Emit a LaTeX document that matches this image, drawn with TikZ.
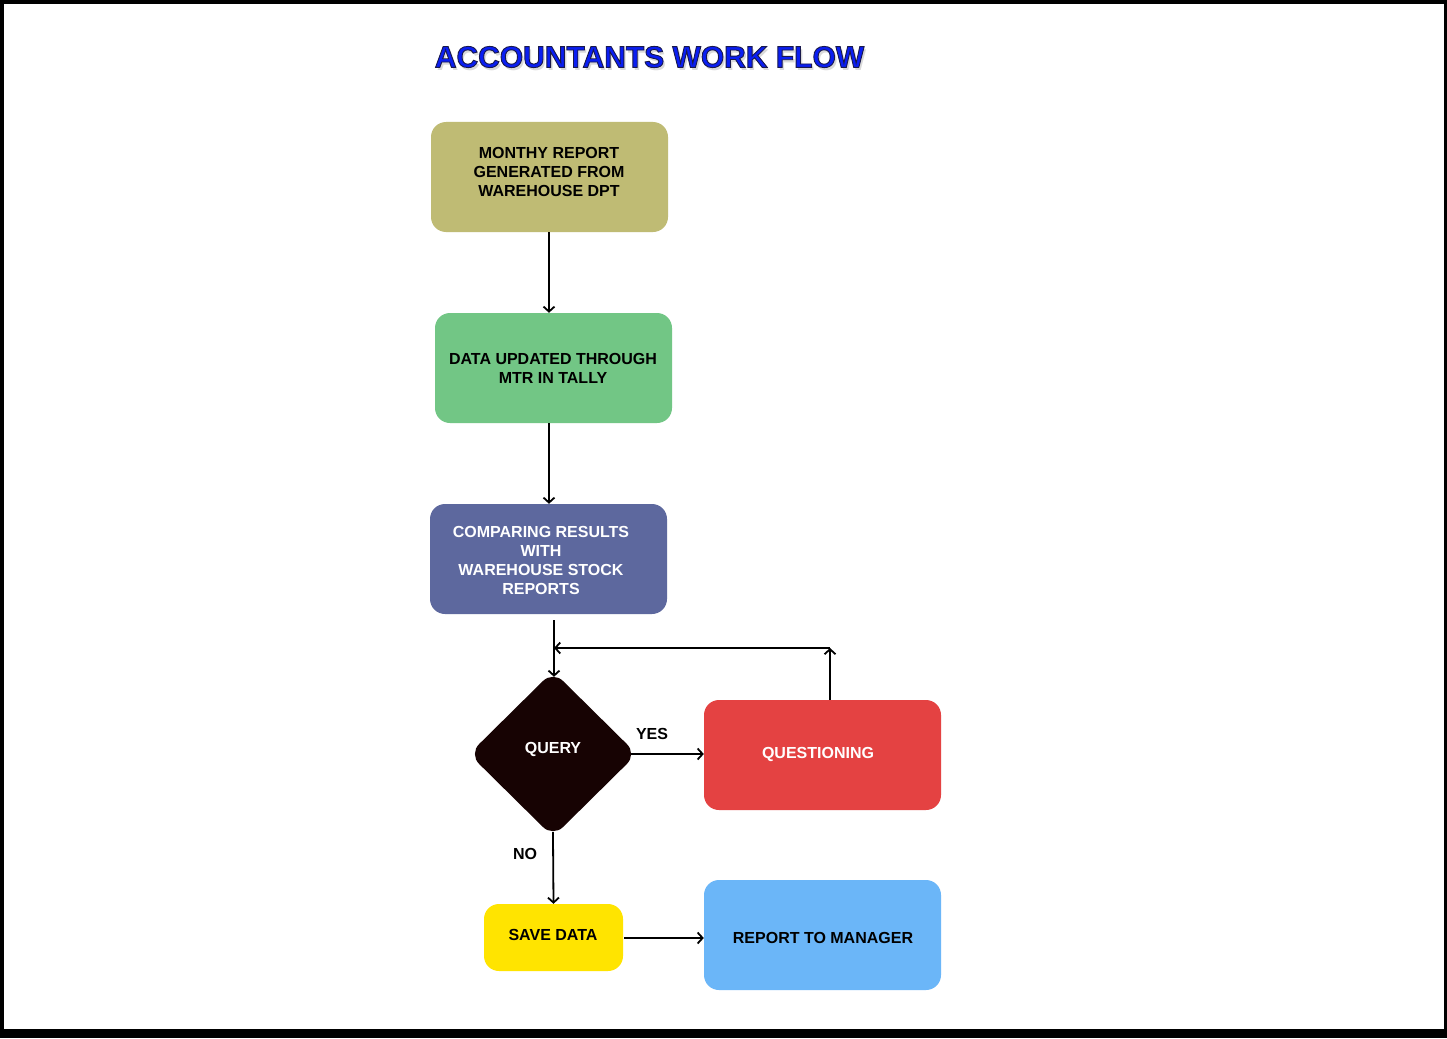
\documentclass[tikz,border=0pt]{standalone}
\usepackage{fontspec}
\setmainfont{Liberation Sans}
\usetikzlibrary{arrows.meta,shapes.geometric,calc}
\definecolor{olivebox}{HTML}{BFBB74}
\definecolor{greenbox}{HTML}{72C685}
\definecolor{purplebox}{HTML}{5D689E}
\definecolor{darkq}{HTML}{170303}
\definecolor{redbox}{HTML}{E44242}
\definecolor{yellowbox}{HTML}{FFE400}
\definecolor{bluebox}{HTML}{6BB6F8}
\definecolor{titleblue}{HTML}{0A1EF2}
\newcommand{\outlinedtitle}[1]{\special{pdf:code 0.1 0.1 0.3 RG 0.9 w 2 Tr}#1\special{pdf:code 0 Tr}}
\begin{document}
\begin{tikzpicture}[x=1pt,y=-1pt,
  box/.style={rounded corners=15pt, inner sep=0pt, minimum width=237pt, minimum height=110pt},
  txt/.style={align=center, inner sep=0pt, font=\bfseries\fontsize{16}{19}\selectfont},
  arr/.style={-{Straight Barb[length=5pt,width=11pt]}, line width=1.8pt},
  ttl/.style={inner sep=0pt, font=\bfseries\fontsize{30}{36}\selectfont}]
\fill[black] (0,0) rectangle (1447,1038);
\fill[white] (3.5,4.5) rectangle (1444,1029);
\useasboundingbox (0,0) rectangle (1447,1038);

% title
\node[ttl, text=black, opacity=0.15] (tS) at (651.5,60.5) {ACCOUNTANTS WORK FLOW};
\node[ttl, text=titleblue] (title) at (649.5,57) {\outlinedtitle{ACCOUNTANTS WORK FLOW}};

% boxes
\node[box, fill=olivebox] (b1) at (549.5,177) {};
\node[txt] (b1t) at (549,171.5) {MONTHY REPORT\\GENERATED FROM\\WAREHOUSE DPT};
\node[box, fill=greenbox] (b2) at (553.5,368) {};
\node[txt] (b2t) at (553,368) {DATA UPDATED THROUGH\\MTR IN TALLY};
\node[box, fill=purplebox] (b3) at (548.5,559) {};
\node[txt, text=white] (b3t) at (541,560) {COMPARING RESULTS\\WITH\\WAREHOUSE STOCK\\REPORTS};
\node[diamond, fill=darkq, rounded corners=14pt, inner sep=0pt, minimum width=168pt, minimum height=166pt] (q) at (553,754) {};
\node[txt, text=white] (qt) at (553,749.5) {QUERY};
\node[box, fill=redbox] (r) at (822.5,755) {};
\node[txt, text=white] (rt) at (818,754.5) {QUESTIONING};
\node[box, fill=yellowbox, minimum width=139pt, minimum height=67pt] (y) at (553.5,937.5) {};
\node[txt] (yt) at (553,934.5) {SAVE DATA};
\node[box, fill=bluebox] (m) at (822.5,935) {};
\node[txt] (mt) at (823,937.5) {REPORT TO MANAGER};

% labels
\node[txt] (yes) at (652,733.5) {YES};
\node[txt] (no) at (525,853.5) {NO};

% connectors
\coordinate (v1) at (549,0);
\draw[arr] (b1.south -| v1) -- (b2.north -| v1);
\draw[arr] (b2.south -| v1) -- (b3.north -| v1);
\draw[arr, shorten >=-6pt] ([xshift=5.5pt,yshift=-6pt]b3.south) -- (q.north -| 554,0);
\coordinate (lt) at (830,648);
\coordinate (lj) at (554,648);
\draw[arr] (r.north -| lt) -- (lt);
\draw[arr] (lt) -- (lj);
\draw[arr, shorten <=-6pt] (q.east) -- (r.west |- q.east);
\draw[arr, shorten <=-5pt] (q.south) -- (y.north);
\coordinate (h1) at (0,938);
\draw[arr, shorten <=1pt] (y.east |- h1) -- (m.west |- h1);
\end{tikzpicture}
\end{document}
